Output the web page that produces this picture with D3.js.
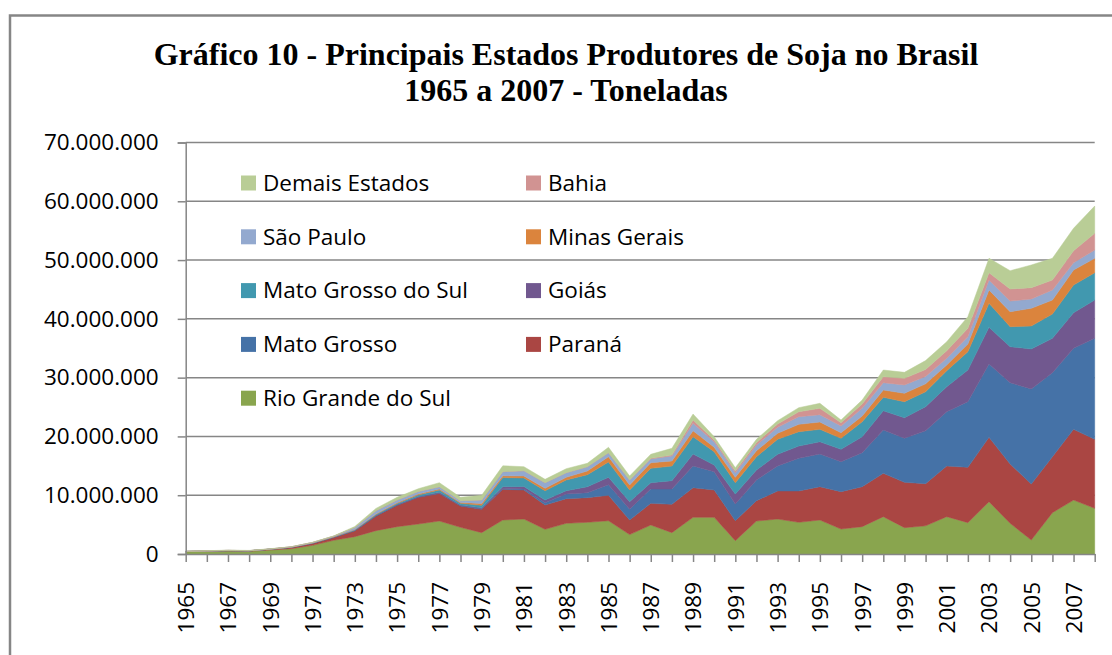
<!DOCTYPE html>
<html>
<head>
<meta charset="utf-8">
<script src="https://cdn.jsdelivr.net/npm/d3@7"></script>
<style>
  body { margin: 0; background: #fff; }
  svg text { font-family: "Open Sans", sans-serif; fill: #000; }
  .title { font-family: "Liberation Serif", "Times New Roman", serif; font-weight: bold; font-size: 32px; }
</style>
</head>
<body>
<div id="chart-container"></div>
<script>
// anos (categorias)
var years = [1965, 1966, 1967, 1968, 1969, 1970, 1971, 1972, 1973, 1974, 1975,
  1976, 1977, 1978, 1979, 1980, 1981, 1982, 1983, 1984, 1985, 1986, 1987, 1988,
  1989, 1990, 1991, 1992, 1993, 1994, 1995, 1996, 1997, 1998, 1999, 2000, 2001,
  2002, 2003, 2004, 2005, 2006, 2007, 2008];

// producao em milhoes de toneladas
var rioGrandeDoSul = [0.40, 0.45, 0.50, 0.46, 0.68, 0.90, 1.47, 2.33, 2.95, 3.97, 4.65,
  5.10, 5.61, 4.54, 3.63, 5.78, 5.95, 4.20, 5.22, 5.39, 5.66, 3.30, 4.93, 3.63,
  6.24, 6.24, 2.27, 5.61, 5.95, 5.39, 5.78, 4.25, 4.65, 6.35, 4.48, 4.79, 6.35,
  5.33, 8.90, 5.22, 2.38, 7.03, 9.18, 7.77];
var parana = [0.03, 0.05, 0.08, 0.08, 0.14, 0.23, 0.35, 0.51, 1.02, 2.49, 3.63,
  4.54, 4.69, 3.62, 3.97, 5.22, 4.94, 4.13, 4.19, 4.19, 4.32, 2.48, 3.69, 4.82,
  5.04, 4.65, 3.39, 3.46, 4.77, 5.33, 5.67, 6.35, 6.80, 7.38, 7.71, 7.18, 8.62,
  9.41, 10.95, 10.09, 9.52, 9.52, 12.03, 11.74];
var matoGrosso = [0, 0, 0, 0, 0, 0, 0, 0, 0.01, 0.02, 0.03,
  0.04, 0.05, 0.06, 0.10, 0.12, 0.15, 0.40, 0.79, 0.85, 1.81, 1.85, 2.44, 2.61,
  3.69, 3.11, 2.84, 3.52, 4.25, 5.56, 5.56, 5.10, 5.78, 7.36, 7.49, 8.98, 9.23,
  11.17, 12.47, 13.83, 16.17, 14.29, 13.78, 17.18];
var goias = [0, 0, 0, 0, 0, 0.02, 0.03, 0.03, 0.05, 0.08, 0.10,
  0.12, 0.15, 0.10, 0.15, 0.33, 0.45, 0.45, 0.57, 1.02, 1.26, 1.27, 1.07, 1.41,
  2.04, 1.14, 1.70, 1.70, 1.99, 2.09, 2.09, 2.11, 2.72, 3.28, 3.51, 4.11, 4.26,
  5.39, 6.24, 6.12, 6.80, 5.85, 6.06, 6.51];
var matoGrossoDoSul = [0, 0, 0, 0, 0, 0.02, 0.03, 0.04, 0.08, 0.15, 0.20,
  0.25, 0.40, 0.30, 0.43, 1.55, 1.44, 1.59, 1.82, 2.04, 2.60, 2.00, 2.44, 2.50,
  2.94, 2.26, 1.93, 2.26, 2.55, 2.43, 2.11, 1.87, 2.55, 2.28, 2.72, 2.54, 2.72,
  3.11, 4.08, 3.40, 3.91, 4.13, 4.70, 4.65];
var minasGerais = [0, 0, 0, 0, 0, 0, 0, 0.02, 0.04, 0.10, 0.12,
  0.15, 0.15, 0.15, 0.30, 0.30, 0.34, 0.40, 0.46, 0.63, 0.90, 0.85, 0.96, 0.85,
  1.02, 0.75, 0.92, 1.02, 1.02, 1.26, 1.24, 0.95, 0.97, 1.25, 1.42, 1.35, 0.97,
  1.31, 2.27, 2.56, 3.01, 2.38, 2.56, 2.45];
var saoPaulo = [0.02, 0.03, 0.04, 0.03, 0.04, 0.05, 0.08, 0.10, 0.35, 0.55, 0.45,
  0.45, 0.40, 0.30, 0.60, 0.70, 0.90, 0.96, 0.78, 0.73, 0.68, 0.80, 0.65, 0.85,
  1.26, 0.95, 0.78, 0.97, 1.02, 1.29, 1.24, 1.14, 1.31, 1.24, 1.42, 1.25, 1.14,
  1.24, 1.70, 1.81, 1.58, 1.71, 1.24, 1.41];
var bahia = [0, 0, 0, 0, 0, 0, 0, 0, 0, 0, 0,
  0, 0, 0, 0, 0, 0, 0, 0, 0, 0, 0.05, 0.10, 0.17,
  0.57, 0.30, 0.30, 0.40, 0.56, 0.85, 1.09, 0.56, 0.73, 1.02, 1.13, 1.20, 1.29,
  1.43, 1.24, 2.05, 1.93, 1.70, 2.04, 2.84];
var demaisEstados = [0.03, 0.03, 0.04, 0.04, 0.04, 0.03, 0.04, 0.05, 0.18, 0.40, 0.46,
  0.45, 0.68, 0.57, 0.80, 1.00, 0.68, 0.57, 0.68, 0.58, 0.92, 0.67, 0.68, 1.14,
  1.01, 0.55, 0.55, 0.57, 0.56, 0.69, 0.85, 0.46, 0.68, 1.14, 1.02, 1.50, 1.53,
  1.98, 2.45, 3.11, 3.86, 3.69, 3.81, 4.64];

var yTicks = [0, 10000000, 20000000, 30000000, 40000000, 50000000, 60000000, 70000000];
var xLabels = [1965, 1967, 1969, 1971, 1973, 1975, 1977, 1979, 1981, 1983, 1985,
  1987, 1989, 1991, 1993, 1995, 1997, 1999, 2001, 2003, 2005, 2007];

// ordem de empilhamento (de baixo para cima)
var series = [
  {key: "Rio Grande do Sul", values: rioGrandeDoSul, color: "#89A54E"},
  {key: "Paraná", values: parana, color: "#AA4643"},
  {key: "Mato Grosso", values: matoGrosso, color: "#4572A7"},
  {key: "Goiás", values: goias, color: "#71588F"},
  {key: "Mato Grosso do Sul", values: matoGrossoDoSul, color: "#4198AF"},
  {key: "Minas Gerais", values: minasGerais, color: "#DB843D"},
  {key: "São Paulo", values: saoPaulo, color: "#93A9CF"},
  {key: "Bahia", values: bahia, color: "#D19392"},
  {key: "Demais Estados", values: demaisEstados, color: "#B9CD96"}
];

var table = years.map(function(y, i) {
  var row = {year: y};
  series.forEach(function(s) { row[s.key] = s.values[i] * 1e6; });
  return row;
});

var width = 1112, height = 655;
var plot = {left: 185.7, right: 1094.7, top: 142.5, bottom: 554};
var gridColor = "#868686";

var svg = d3.select("#chart-container").append("svg")
    .attr("width", width)
    .attr("height", height);

// moldura do grafico
svg.append("rect")
    .attr("x", 10).attr("y", 15.5)
    .attr("width", width + 20).attr("height", height + 20)
    .attr("fill", "#fff")
    .attr("stroke", gridColor)
    .attr("stroke-width", 2.5);

// titulo
svg.append("text").attr("class", "title")
    .attr("x", 566).attr("y", 65)
    .attr("text-anchor", "middle")
    .text("Gráfico 10 - Principais Estados Produtores de Soja no Brasil");
svg.append("text").attr("class", "title")
    .attr("x", 566).attr("y", 101)
    .attr("text-anchor", "middle")
    .text("1965 a 2007 - Toneladas");

var x = d3.scalePoint().domain(years).range([plot.left, plot.right]);
var y = d3.scaleLinear().domain([0, 70000000]).range([plot.bottom, plot.top]);

var ptBR = d3.formatLocale({decimal: ",", thousands: ".", grouping: [3], currency: ["R$", ""]});
var fmt = ptBR.format(",");

// linhas de grade
svg.append("g")
  .selectAll("line")
  .data(yTicks.slice(1))
  .join("line")
    .attr("x1", plot.left).attr("x2", plot.right)
    .attr("y1", function(d) { return y(d); })
    .attr("y2", function(d) { return y(d); })
    .attr("stroke", gridColor)
    .attr("stroke-width", 1.5);

// areas empilhadas
var stack = d3.stack().keys(series.map(function(s) { return s.key; }));
var layers = stack(table);

var area = d3.area()
    .x(function(d) { return x(d.data.year); })
    .y0(function(d) { return y(d[0]); })
    .y1(function(d) { return y(d[1]); });

svg.append("g")
  .selectAll("path")
  .data(layers)
  .join("path")
    .attr("d", area)
    .attr("fill", function(d, i) { return series[i].color; })
    .attr("stroke", function(d, i) { return series[i].color; })
    .attr("stroke-width", 0.5);

// eixo Y
var yAxis = svg.append("g")
    .attr("transform", "translate(" + plot.left + ",0)")
    .call(d3.axisLeft(y).tickValues(yTicks).tickFormat(fmt).tickSize(8).tickPadding(19));
yAxis.select(".domain").attr("stroke", gridColor).attr("stroke-width", 1.5);
yAxis.selectAll(".tick line").attr("stroke", gridColor).attr("stroke-width", 1.5);
yAxis.selectAll(".tick text")
    .style("font-family", "'Open Sans', sans-serif")
    .style("font-size", "22.5px")
    .attr("fill", "#000");

// eixo X
var xAxis = svg.append("g")
    .attr("transform", "translate(0," + plot.bottom + ")")
    .call(d3.axisBottom(x).tickSize(8).tickSizeOuter(0)
      .tickFormat(function(d) { return xLabels.indexOf(d) >= 0 ? d : ""; }));
xAxis.select(".domain").attr("stroke", gridColor).attr("stroke-width", 1.5);
xAxis.selectAll(".tick line").attr("stroke", gridColor).attr("stroke-width", 1.5);
xAxis.selectAll(".tick text")
    .style("font-family", "'Open Sans', sans-serif")
    .style("font-size", "22.5px")
    .attr("fill", "#000")
    .attr("text-anchor", "end")
    .attr("transform", "rotate(-90)")
    .attr("x", -28)
    .attr("y", 0)
    .attr("dy", "0.35em");

// legenda (ordem inversa, duas colunas)
var legendOrder = series.slice().reverse();
var legend = svg.append("g")
  .selectAll("g")
  .data(legendOrder)
  .join("g")
    .attr("transform", function(d, i) {
      var col = i % 2, row = Math.floor(i / 2);
      return "translate(" + (241 + col * 285) + "," + (183 + row * 53.8) + ")";
    });
legend.append("rect")
    .attr("x", 0).attr("y", -7.5)
    .attr("width", 15).attr("height", 15)
    .attr("fill", function(d) { return d.color; });
legend.append("text")
    .attr("x", 22).attr("dy", "0.35em")
    .style("font-size", "22.5px")
    .text(function(d) { return d.key; });
</script>
</body>
</html>
